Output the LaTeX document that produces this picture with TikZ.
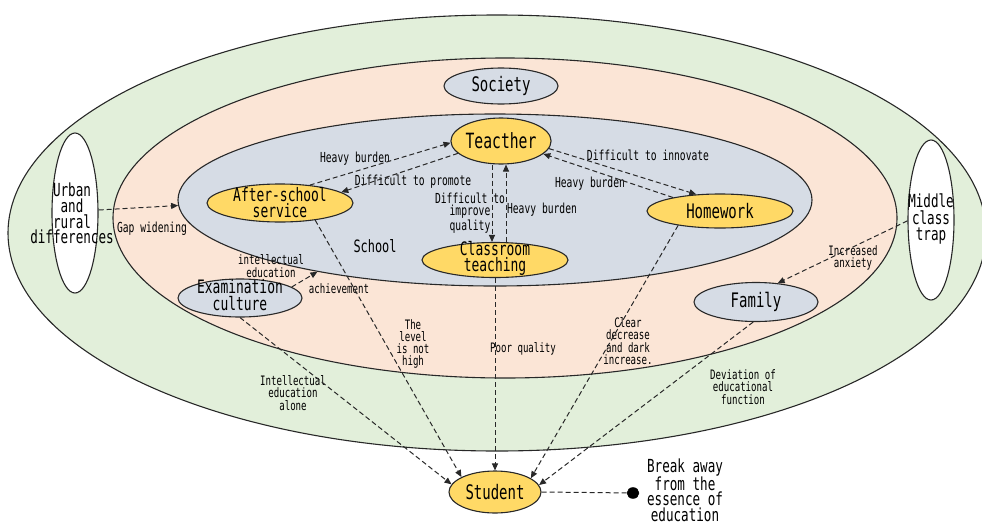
\documentclass[tikz,border=0pt]{standalone}
\usepackage{fontspec}
\newfontfamily\cf[FakeStretch=0.7]{DejaVu Sans Mono}
\usetikzlibrary{shapes.geometric,arrows.meta}
\definecolor{cgreen}{RGB}{226,239,218}
\definecolor{cpeach}{RGB}{251,229,214}
\definecolor{cblue}{RGB}{214,220,229}
\definecolor{cyel}{RGB}{255,217,102}
\definecolor{cline}{RGB}{40,40,40}
\begin{document}
\begin{tikzpicture}[x=1pt,y=-1pt,
  ell/.style={ellipse,draw=cline,line width=1.1pt,inner sep=0pt},
  yel/.style={ell,fill=cyel},
  gry/.style={ell,fill=cblue},
  wht/.style={ell,fill=white},
  big/.style={font=\cf\fontsize{20}{17}\selectfont},
  nt/.style={font=\cf\fontsize{18.5}{16}\selectfont,align=center,inner sep=0pt},
  lab/.style={font=\cf\fontsize{13.8}{12.3}\selectfont,align=center,inner sep=0pt},
  labs/.style={font=\cf\fontsize{13}{12.3}\selectfont,align=center,inner sep=0pt},
  conn/.style={draw=cline,line width=1pt,dash pattern=on 5pt off 3pt},
  arr/.style={conn,-{Triangle[length=7pt,width=6pt]}},
]
\useasboundingbox (0,0) rectangle (982,525);
% regions
\node[ell,fill=cgreen,minimum width=978pt,minimum height=436pt] (outer) at (497,233) {};
\node[ell,fill=cpeach,minimum width=784pt,minimum height=320pt] (mid) at (505,218) {};
\node[gry,minimum width=634pt,minimum height=172pt] (school) at (495,200) {};
% side ellipses
\node[wht,minimum width=46pt,minimum height=160pt] (U) at (75,213) {};
\node[nt,font=\cf\fontsize{18}{15.7}\selectfont] (Ut) at (72,213.5) {Urban\\and\\rural\\differences};
\node[wht,minimum width=46pt,minimum height=160pt] (M) at (931,220) {};
\node[nt,font=\cf\fontsize{18}{16.5}\selectfont] (Mt) at (931,219) {Middle\\class\\trap};
% nodes
\node[gry,big,minimum width=114pt,minimum height=36pt] (Soc) at (501,86) {Society};
\node[yel,big,font=\cf\fontsize{21}{17}\selectfont,minimum width=92pt,minimum height=46pt] (T) at (501,141) {Teacther};
\node[yel,minimum width=146pt,minimum height=38pt] (A) at (280,203) {};
\node[nt] (At) at (280,203) {After-school\\service};
\node[yel,minimum width=146pt,minimum height=35pt] (C) at (495,260) {};
\node[nt] (Ct) at (495,258) {Classroom\\teaching};
\node[yel,big,minimum width=146pt,minimum height=34pt] (H) at (720,211) {Homework};
\node[gry,minimum width=124pt,minimum height=38pt] (E) at (240,298) {};
\node[nt,font=\cf\fontsize{18.5}{17}\selectfont] (Et) at (240,295) {Examination\\culture};
\node[gry,big,minimum width=124pt,minimum height=39pt] (F) at (756,302) {Family};
\node[yel,big,minimum width=92pt,minimum height=42pt] (St) at (495,492) {Student};
\node[ellipse,fill=black,draw=black,minimum width=12pt,minimum height=11pt,inner sep=0pt] (dot) at (633,493) {};
\node[nt,font=\cf\fontsize{18}{15.5}\selectfont] (brk) at (685,490) {Break away\\from the\\essence of\\education};
\node[nt,font=\cf\fontsize{17}{17}\selectfont] (sch) at (375,246.5) {School};
% labels
\node[lab] (hb1) at (355,159) {Heavy burden};
\node[lab] (dp) at (413,182) {Difficult to promote};
\node[lab] (diq) at (470,213) {Difficult to\\improve\\quality};
\node[lab] (hb2) at (542,210) {Heavy burden};
\node[lab] (di) at (648,155) {Difficult to innovate};
\node[lab] (hb3) at (590,184) {Heavy burden};
\node[lab] (gw) at (152,229) {Gap widening};
\node[labs] (ie) at (271,266) {intellectual\\education};
\node[labs] (ach) at (339,289) {achievement};
\node[labs] (lvl) at (413,344) {The\\level\\is not\\high};
\node[labs] (pq) at (523,349) {Poor quality};
\node[labs] (cd) at (628,341) {Clear\\decrease\\and dark\\increase.};
\node[labs] (iea) at (293,393) {Intellectual\\education\\alone};
\node[labs] (def) at (743,387) {Deviation of\\educational\\function};
\node[labs] (ia) at (853,258) {Increased\\anxiety};
% connectors
\draw[arr] ([yshift=3pt]U.east) -- (school.181.8);
\draw[arr] (A.31) -- (T.182);
\draw[arr] (T.196) -- (A.10);
\draw[arr] ([xshift=-9pt]T.south) -- ([xshift=-3pt]C.north);
\draw[arr] ([xshift=11pt]C.north) -- ([xshift=5pt]T.south);
\draw[arr] (T.351) -- (H.145);
\draw[arr] (H.164.5) -- (T.343);
\draw[arr] (E.12) -- (school.202.7);
\draw[arr] (A.334.5) -- (St.156);
\draw[arr] (C.south) -- (St.north);
\draw[arr] (H.199.5) -- (St.21.2);
\draw[arr] (F.262) -- (St.9.8);
\draw[arr] (E.south) -- (St.170);
\draw[arr] (M.182) -- (F.41.8);
\draw[conn] (St.east) -- (dot);
\end{tikzpicture}
\end{document}
